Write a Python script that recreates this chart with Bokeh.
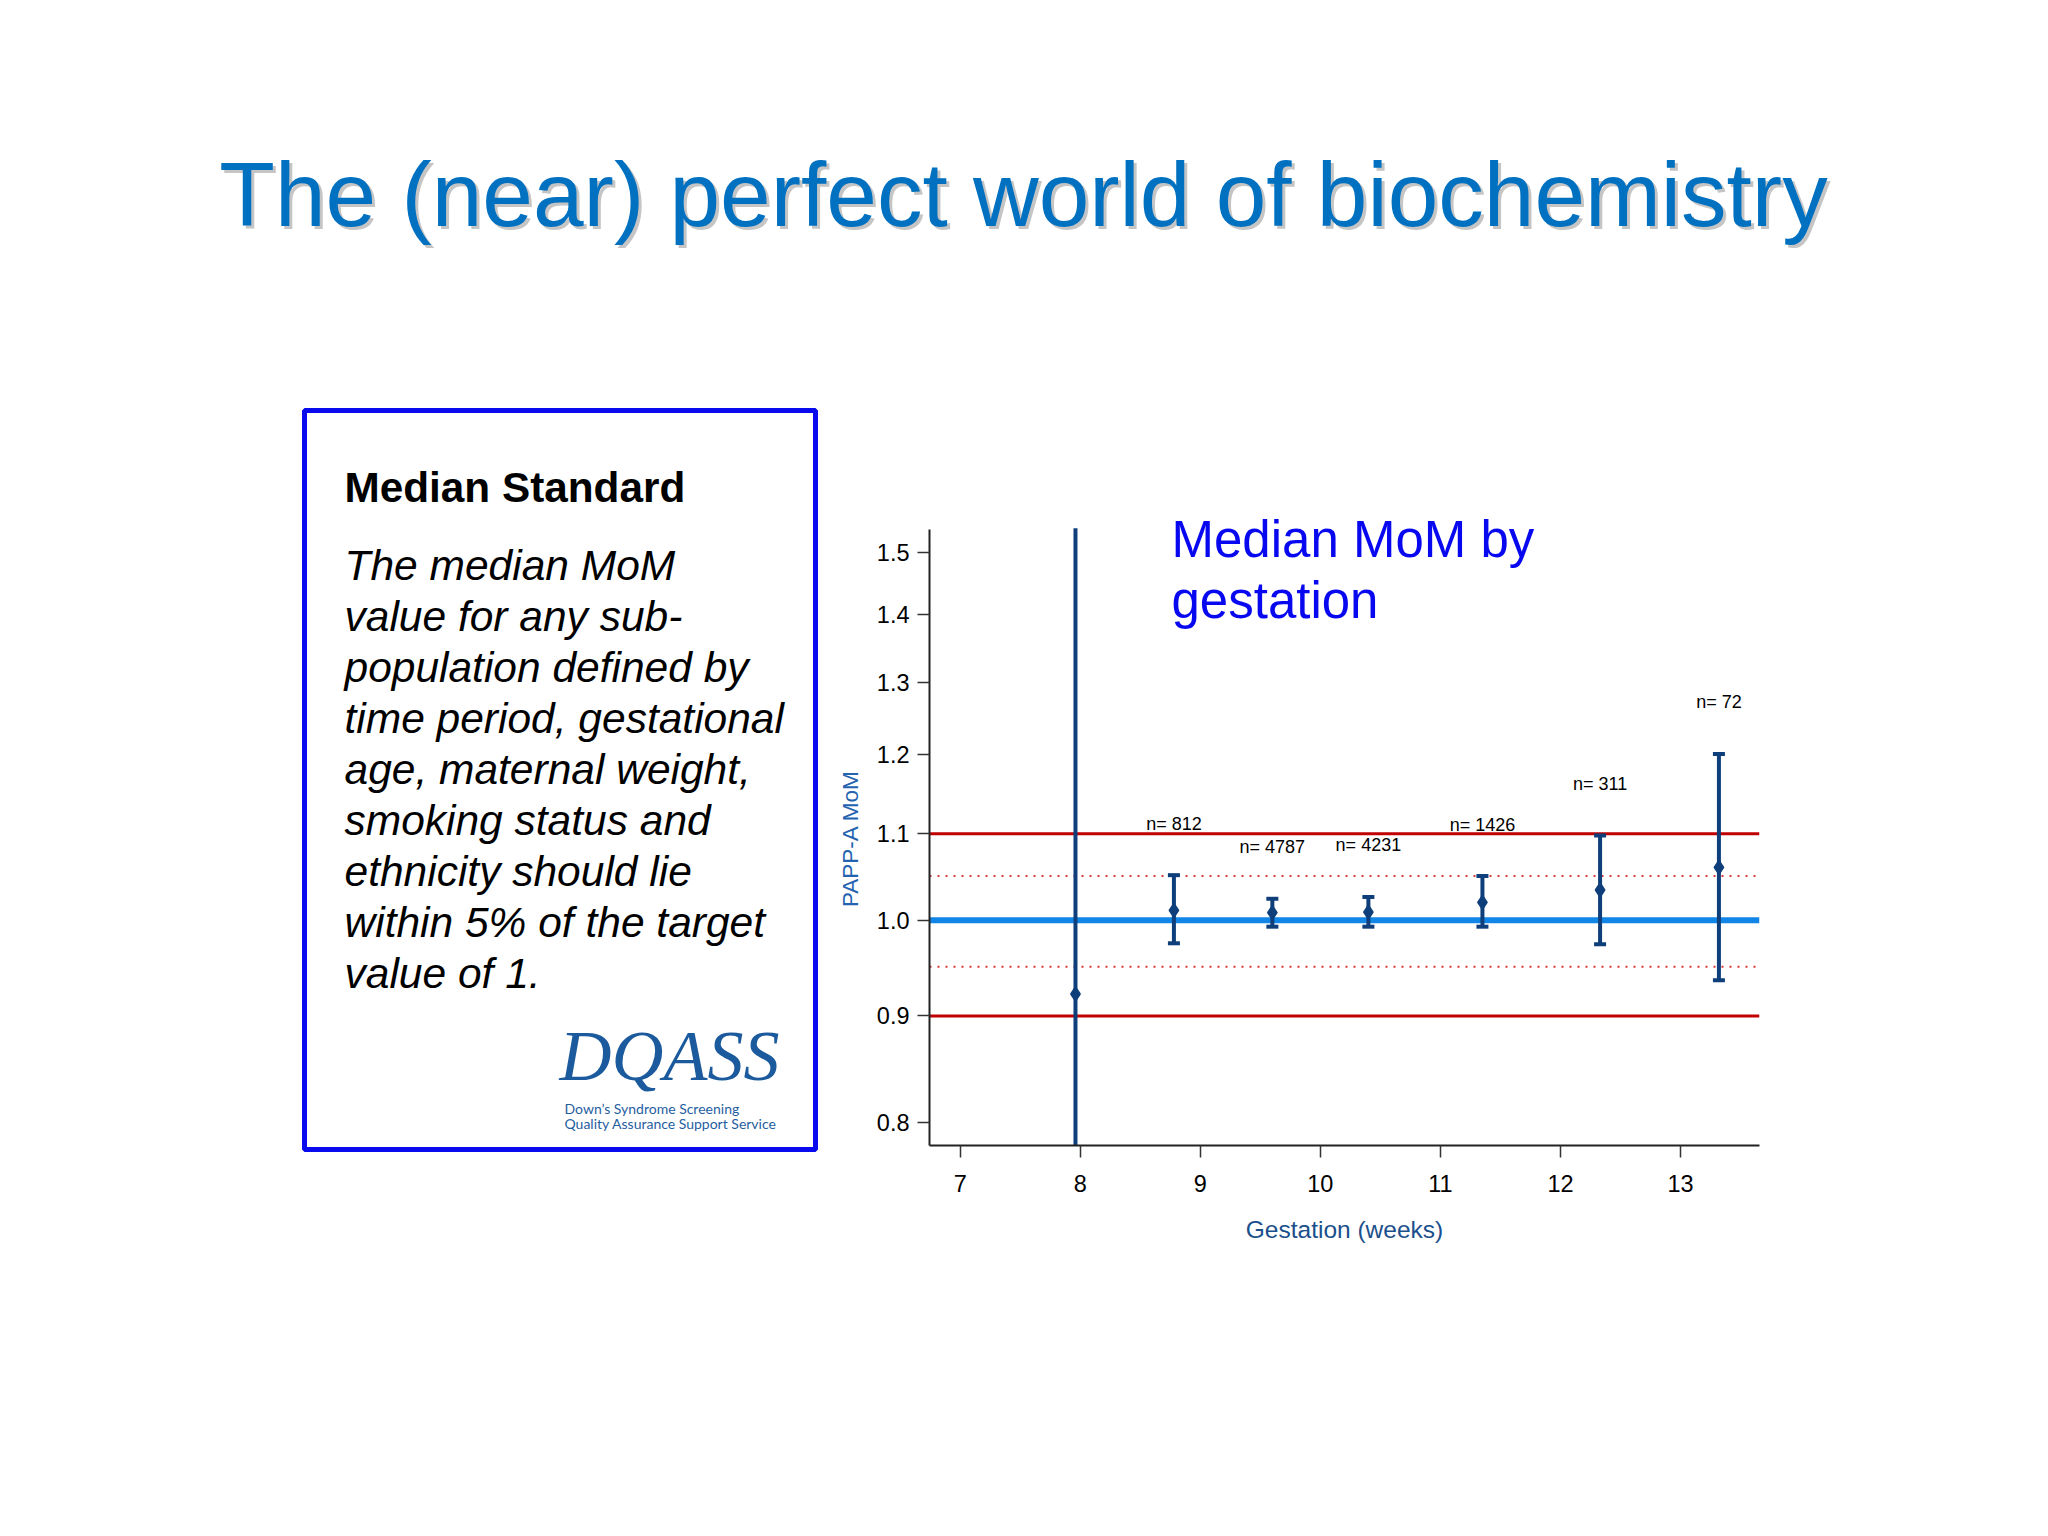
from bokeh.plotting import figure
from bokeh.layouts import column, row
from bokeh.models import Span, Label, BoxAnnotation, FixedTicker, PrintfTickFormatter, Range1d
from bokeh.core.properties import value
from bokeh.embed import file_html
from bokeh.resources import INLINE

# ---------------- data ----------------
gestation = [7.96, 8.78, 9.60, 10.40, 11.35, 12.33, 13.32]
median_mom = [0.922, 1.011, 1.0085, 1.009, 1.020, 1.034, 1.060]
lower_ci = [0.60, 0.975, 0.993, 0.993, 0.993, 0.974, 0.936]
upper_ci = [1.54, 1.051, 1.024, 1.026, 1.050, 1.098, 1.201]
has_caps = [False, True, True, True, True, True, True]

label_x = [8.78, 9.60, 10.40, 11.35, 12.33, 13.32]
label_y = [1.112, 1.084, 1.086, 1.111, 1.162, 1.272]
n_labels = ["n= 812", "n= 4787", "n= 4231", "n= 1426", "n= 311", "n= 72"]

x_ticks = [7, 8, 9, 10, 11, 12, 13]
y_ticks = [0.8, 0.9, 1.0, 1.1, 1.2, 1.3, 1.4, 1.5]
target = 1.0
outer_limits = [0.9, 1.1]
inner_limits = [0.95, 1.05]

title_text = "The (near) perfect world of biochemistry"
box_heading = "Median Standard"
box_lines = [
    "The median MoM",
    "value for any sub-",
    "population defined by",
    "time period, gestational",
    "age, maternal weight,",
    "smoking status and",
    "ethnicity should lie",
    "within 5% of the target",
    "value of 1.",
]
chart_note = ["Median MoM by", "gestation"]
y_title = "PAPP-A MoM"
x_title = "Gestation (weeks)"
logo_text = "DQASS"
logo_sub = ["Down\u2019s Syndrome Screening", "Quality Assurance Support Service"]

# ---------------- styles ----------------
NAVY = "#0E3F7B"
RED = "#C00000"
DOT_RED = "#D43A3A"
TARGET_BLUE = "#1286E6"
FONT = "Liberation Sans"

PAGE_W, PAGE_H = 2032, 1520
TOP_H = 400
LEFT_W = 869


def blank(width, height):
    f = figure(width=width, height=height, x_range=Range1d(0, 1), y_range=Range1d(0, 1),
               x_axis_location=None, y_axis_location=None, output_backend="svg",
               toolbar_location=None, min_border=0, frame_align=False)
    f.grid.visible = False
    f.outline_line_color = None
    f.background_fill_color = "white"
    f.border_fill_color = "white"
    return f


def add_text(fig, ox, oy, text, X, Yb, size, color, style="normal", font=FONT,
             align="left", alpha=1.0):
    # ox, oy: page position of the figure frame's bottom-left corner; Yb: page baseline
    yc = Yb - 0.345 * size
    fig.add_layout(Label(x=X - ox, y=oy - yc, x_units="screen", y_units="screen", text=text,
                         text_font=font, text_font_size=f"{size}px", text_color=color,
                         text_font_style=style, text_align=align, text_baseline="middle",
                         text_alpha=alpha))


# ---------------- title strip ----------------
top = blank(PAGE_W, TOP_H)
add_text(top, 0, TOP_H, title_text, 1026, 228, 91, "#8C8C8C", align="center", alpha=0.5)
add_text(top, 0, TOP_H, title_text, 1023, 225, 91, "#0070C0", align="center")

# ---------------- left box ----------------
left = blank(LEFT_W, PAGE_H - TOP_H)
LB = PAGE_H  # page y of left figure bottom
left.add_layout(BoxAnnotation(left=304, right=815, top=LB - 410, bottom=LB - 1149,
                              left_units="screen", right_units="screen",
                              top_units="screen", bottom_units="screen",
                              fill_alpha=0, line_alpha=1.0, line_color="#0A0AEE", line_width=5))
add_text(left, 0, LB, box_heading, 344, 502, 42.3, "black", style="bold")
for i, line in enumerate(box_lines):
    add_text(left, 0, LB, line, 344, 580 + 51 * i, 42.5, "black", style="italic")
add_text(left, 0, LB, logo_text, 559, 1080, 72, "#1B5A9C", style="italic", font="Liberation Serif")
for i, line in enumerate(logo_sub):
    add_text(left, 0, LB, line, 564, 1113 + 15 * i, 14, "#1F5E9F", font="Lato")
# y-axis title of the chart (centred on the drawn axis, 529..1145)
left.add_layout(Label(x=850, y=LB - 838, x_units="screen", y_units="screen", text=y_title,
                      angle=90, angle_units="deg", text_align="center", text_baseline="middle",
                      text_font=FONT, text_font_size="22.5px", text_color="#2463B0"))

# ---------------- chart ----------------
FL, FR, FT, FB = 929, 1759, 500, 1145   # page coordinates of chart frame
p = figure(width=PAGE_W - LEFT_W, height=PAGE_H - TOP_H,
           x_range=Range1d(6.744, 13.658), y_range=Range1d(0.7803, 1.588),
           y_axis_type="log", output_backend="svg", toolbar_location=None,
           min_border_left=FL - LEFT_W, min_border_right=PAGE_W - FR,
           min_border_top=FT - TOP_H, min_border_bottom=PAGE_H - FB, frame_align=False)
p.grid.visible = False
p.outline_line_color = None
p.background_fill_color = "white"
p.border_fill_color = "white"

for ax in (p.xaxis[0], p.yaxis[0]):
    ax.axis_line_color = "#222222"
    ax.axis_line_width = 2
    ax.major_tick_line_color = "#333333"
    ax.major_tick_line_width = 1.5
    ax.major_tick_out = 12
    ax.major_tick_in = 0
    ax.minor_tick_out = 0
    ax.minor_tick_in = 0
    ax.major_label_text_font = FONT
    ax.major_label_text_font_size = "23.5px"
    ax.major_label_text_color = "black"
    ax.axis_label_text_font = FONT
    ax.axis_label_text_font_style = "normal"

p.xaxis.ticker = FixedTicker(ticks=x_ticks, minor_ticks=[])
p.xaxis.major_label_standoff = 17
p.xaxis.axis_label = x_title
p.xaxis.axis_label_text_color = "#1B4F8C"
p.xaxis.axis_label_text_font_size = "24.5px"
p.xaxis.axis_label_standoff = 21

p.yaxis.ticker = FixedTicker(ticks=y_ticks, minor_ticks=[])
p.yaxis.formatter = PrintfTickFormatter(format="%.1f")
p.yaxis.bounds = (0.7803, 1.5376)
p.yaxis.major_label_standoff = 8

for v in outer_limits:
    p.add_layout(Span(location=v, dimension="width", line_color=RED, line_width=3, level="underlay"))
for v in inner_limits:
    p.add_layout(Span(location=v, dimension="width", line_color=DOT_RED, line_width=2,
                      line_dash="2 6", level="underlay"))
p.add_layout(Span(location=target, dimension="width", line_color=TARGET_BLUE, line_width=6,
                  level="underlay"))

cap_x = [g for g, c in zip(gestation, has_caps) if c]
cap_hi = [u for u, c in zip(upper_ci, has_caps) if c]
cap_lo = [l for l, c in zip(lower_ci, has_caps) if c]

p.segment(x0=gestation, y0=lower_ci, x1=gestation, y1=upper_ci, line_color=NAVY, line_width=4)
p.scatter(x=cap_x, y=cap_hi, marker="dash", size=12, line_color=NAVY, line_width=4)
p.scatter(x=cap_x, y=cap_lo, marker="dash", size=12, line_color=NAVY, line_width=4)
p.scatter(x=gestation, y=median_mom, marker="diamond", size=14, fill_color=NAVY,
          line_color=NAVY, line_width=1.5)

p.text(x=label_x, y=label_y, text=n_labels, text_font=value(FONT), text_font_size=value("18px"),
       text_align="center", text_baseline="alphabetic", text_color="black")

for i, line in enumerate(chart_note):
    add_text(p, FL, FB, line, 1171, 557 + 61 * i, 51, "#0808F0")

layout = column(top, row(left, p))
open("out.html", "w").write(file_html(layout, INLINE))
